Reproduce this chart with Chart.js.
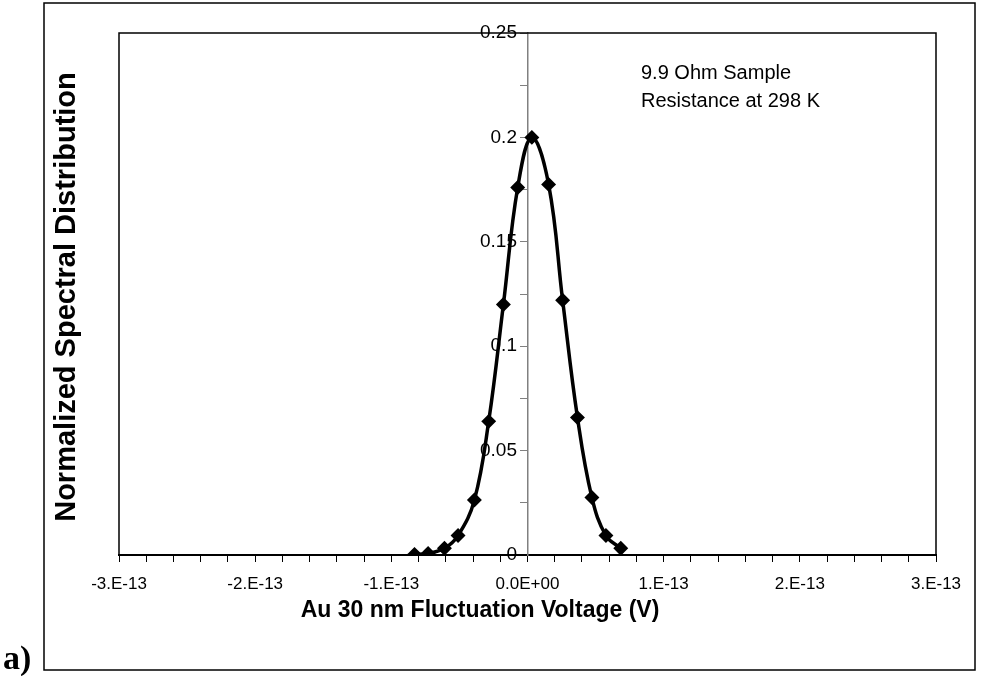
<!DOCTYPE html>
<html>
<head>
<meta charset="utf-8">
<script src="https://cdn.jsdelivr.net/npm/chart.js@4/dist/chart.umd.min.js"></script>
<style>
  html, body { margin: 0; padding: 0; background: #fff; }
  #wrap { width: 985px; height: 676px; }
</style>
</head>
<body>
<div id="wrap"><canvas id="chart" width="985" height="676"></canvas></div>
<script>
// values
const voltage = [-8.3e-14, -7.3e-14, -6.1e-14, -5.1e-14, -3.9e-14, -2.85e-14, -1.77e-14, -0.72e-14,
                 0.32e-14, 1.55e-14, 2.58e-14, 3.67e-14, 4.73e-14, 5.76e-14, 6.85e-14];
const spectral = [0.0003, 0.0007, 0.0032, 0.0093, 0.0263, 0.064, 0.12, 0.176,
                  0.2, 0.1775, 0.122, 0.0658, 0.0275, 0.0093, 0.0032];

const xMajorTicks = [-3e-13, -2e-13, -1e-13, 0, 1e-13, 2e-13, 3e-13];
const xTickLabels = ['-3.E-13', '-2.E-13', '-1.E-13', '0.0E+00', '1.E-13', '2.E-13', '3.E-13'];
const yMajorTicks = [0, 0.05, 0.1, 0.15, 0.2, 0.25];
const yTickLabels = ['0', '0.05', '0.1', '0.15', '0.2', '0.25'];

const yTitle = 'Normalized Spectral Distribution';
const xTitle = 'Au 30 nm Fluctuation Voltage (V)';
const noteLines = ['9.9 Ohm Sample', 'Resistance at 298 K'];
const panelTag = 'a)';

const FONT = "'Liberation Sans', Arial, sans-serif";

function labelFor(value, majors, labels) {
  const i = majors.findIndex(m => Math.abs(m - value) <= Math.max(Math.abs(m), 1e-14) * 1e-6);
  return i >= 0 ? labels[i] : '';
}

// draws outer frame, plot box, axis titles, note and panel tag
const decorations = {
  id: 'decorations',
  beforeDatasetsDraw(chart) {
    const { ctx, chartArea: a } = chart;
    ctx.save();
    ctx.strokeStyle = '#000';
    ctx.lineWidth = 1.5;
    ctx.beginPath();
    ctx.moveTo(a.left, a.bottom);
    ctx.lineTo(a.left, a.top);
    ctx.lineTo(a.right, a.top);
    ctx.lineTo(a.right, a.bottom);
    ctx.stroke();
    ctx.restore();
  },
  afterDraw(chart) {
    const { ctx } = chart;
    ctx.save();
    ctx.strokeStyle = '#000';
    ctx.lineWidth = 1.5;
    ctx.strokeRect(44, 3, 931, 667);

    ctx.fillStyle = '#000';
    ctx.textAlign = 'center';
    ctx.textBaseline = 'middle';
    ctx.font = 'bold 23px ' + FONT;
    ctx.fillText(xTitle, 480, 611);

    ctx.font = 'bold 29px ' + FONT;
    ctx.translate(67, 297);
    ctx.rotate(-Math.PI / 2);
    ctx.fillText(yTitle, 0, 0);
    ctx.restore();

    ctx.save();
    ctx.fillStyle = '#000';
    ctx.font = '20px ' + FONT;
    ctx.textAlign = 'left';
    ctx.textBaseline = 'middle';
    ctx.fillText(noteLines[0], 641, 73);
    ctx.fillText(noteLines[1], 641, 101);

    ctx.font = "bold 34px 'Liberation Serif', 'Times New Roman', serif";
    ctx.textBaseline = 'alphabetic';
    ctx.fillText(panelTag, 3, 669);
    ctx.restore();
  }
};

new Chart(document.getElementById('chart'), {
  type: 'scatter',
  data: {
    datasets: [{
      label: 'Au 30 nm',
      data: voltage.map((v, i) => ({ x: v, y: spectral[i] })),
      showLine: true,
      tension: 0.4,
      borderColor: '#000',
      borderWidth: 3.5,
      backgroundColor: '#000',
      pointStyle: 'rectRot',
      pointRadius: 5,
      pointBackgroundColor: '#000',
      pointBorderColor: '#000'
    }]
  },
  options: {
    responsive: false,
    animation: false,
    layout: { padding: { left: 119, right: 49, top: 33, bottom: 0 } },
    plugins: {
      legend: { display: false },
      tooltip: { enabled: false }
    },
    scales: {
      x: {
        type: 'linear',
        min: -3e-13,
        max: 3e-13,
        afterFit: s => { s.height = 121; },
        afterBuildTicks: s => {
          const ticks = [];
          for (let i = -30; i <= 30; i += 2) ticks.push({ value: i * 1e-14 });
          s.ticks = ticks;
        },
        ticks: {
          autoSkip: false,
          maxRotation: 0,
          color: '#000',
          padding: 12,
          font: { family: FONT, size: 17 },
          callback: v => labelFor(v, xMajorTicks, xTickLabels)
        },
        grid: {
          drawOnChartArea: false,
          drawTicks: true,
          tickLength: 7,
          tickColor: '#000',
          tickWidth: 1
        },
        border: { color: '#000', width: 2 }
      },
      y: {
        type: 'linear',
        min: 0,
        max: 0.25,
        position: { x: 0 },
        afterBuildTicks: s => {
          const ticks = [];
          for (let i = 0; i <= 10; i++) ticks.push({ value: i * 0.025 });
          s.ticks = ticks;
        },
        ticks: {
          autoSkip: false,
          color: '#000',
          font: { family: FONT, size: 19 },
          // the axis sits at x = 0, where Chart.js ignores tick padding, so pad the text
          callback: v => {
            const t = labelFor(v, yMajorTicks, yTickLabels);
            return t ? t + '  ' : '';
          }
        },
        grid: {
          drawOnChartArea: false,
          drawTicks: true,
          tickLength: 7,
          tickColor: '#808080',
          tickWidth: 1
        },
        border: { color: '#808080', width: 1.5 }
      }
    }
  },
  plugins: [decorations]
});
</script>
</body>
</html>
